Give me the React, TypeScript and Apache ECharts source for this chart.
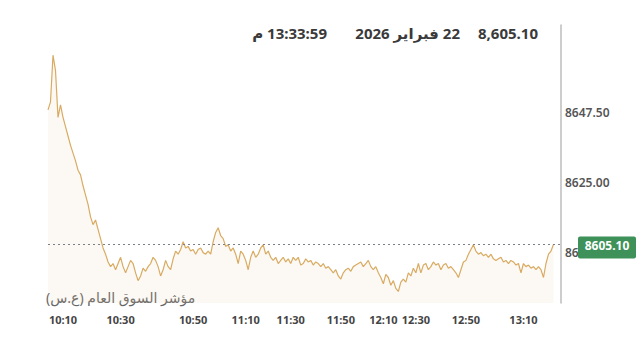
import React, { useEffect, useRef } from "react";
import * as echarts from "echarts";

// Index values (one per trade tick)
const values: number[] = [
  8648.4, 8651, 8666, 8661, 8646, 8650, 8646, 8643, 8640, 8637,
  8634.5, 8632, 8629, 8627.5, 8624, 8621, 8618, 8614, 8611.5, 8613,
  8610, 8607, 8604, 8602, 8599.5, 8598, 8599, 8597, 8599, 8601,
  8598, 8596, 8598, 8600, 8599, 8596, 8593.5, 8595, 8597.5, 8596.5,
  8598, 8599, 8601, 8600, 8598, 8595, 8597, 8600, 8598, 8597,
  8600.5, 8603, 8602, 8603.5, 8606, 8604, 8604.5, 8603, 8603.5, 8602,
  8603.5, 8604, 8602.5, 8602, 8603, 8602, 8606, 8609, 8610.5, 8608,
  8607, 8604.5, 8605, 8603, 8604, 8602, 8599, 8603, 8602, 8600,
  8597, 8601, 8603, 8601, 8602, 8604, 8605, 8602, 8603, 8601,
  8600, 8601, 8599, 8600, 8601, 8599.5, 8600.5, 8599, 8601, 8600,
  8601, 8598.5, 8599, 8600.5, 8599.5, 8600, 8598.5, 8599.5, 8599, 8598,
  8599, 8597.5, 8598, 8597, 8596, 8597, 8595, 8594, 8596, 8597,
  8597.5, 8596.5, 8598, 8598.5, 8599, 8599.5, 8598, 8599, 8600, 8598,
  8597, 8598, 8596, 8594.5, 8592.5, 8595.5, 8594.5, 8592, 8593.5, 8591,
  8590, 8593, 8594, 8593, 8596, 8595, 8597.5, 8596, 8599, 8596,
  8598.5, 8599, 8597, 8598, 8599.5, 8598.5, 8599, 8597, 8598.5, 8599,
  8597.5, 8598, 8597, 8596, 8594.5, 8597, 8599.5, 8600, 8602, 8603.5,
  8605, 8603, 8602, 8602.5, 8601.5, 8602, 8601, 8602, 8600.5, 8600,
  8600.5, 8601, 8599.5, 8600, 8599, 8600, 8599.5, 8598.5, 8599, 8596,
  8599, 8598, 8598.5, 8597.5, 8598, 8597, 8598, 8597, 8594.5, 8599,
  8602, 8603, 8605.1,
];

// Total tick slots in the session view (data stops before the right edge)
const slotCount = 206;
const categories: string[] = Array.from({ length: slotCount }, (_, i) => String(i));

const xTickIndex = [6, 29, 58, 79, 97, 117, 134, 147, 167, 190];
const xTickLabels = ["10:10", "10:30", "10:50", "11:10", "11:30", "11:50", "12:10", "12:30", "12:50", "13:10"];

const yTicks = [8602.5, 8625, 8647.5];
const yMin = 8586.3;
const yMax = 8675.7;

const lastValue = 8605.1;
const titleValue = "8,605.10";
const titleDate = "22 فبراير 2026";
const titleTime = "13:33:59 م";
const indexName = "مؤشر السوق العام (ع.س)";

const RLE = "\u202B";
const PDF = "\u202C";
const FONT = "'Noto Sans', 'Open Sans', 'DejaVu Sans', sans-serif";

export default function App() {
  const ref = useRef<HTMLDivElement>(null);
  useEffect(() => {
    if (!ref.current) return;
    const chart = echarts.init(ref.current, undefined, { renderer: "svg" });
    const titleStyle = {
      align: "right",
      verticalAlign: "middle",
      fill: "#3a3a3a",
      fontSize: 15,
      fontWeight: "bold",
      fontFamily: FONT,
    };
    chart.setOption({
      animation: false,
      grid: { left: 48, right: 79, top: 25, bottom: 45 },
      xAxis: {
        type: "category",
        boundaryGap: false,
        data: categories,
        axisLine: { show: false },
        axisTick: { show: false },
        splitLine: { show: false },
        axisLabel: {
          interval: (index: number) => xTickIndex.includes(index),
          formatter: (_v: string, index: number) => {
            const k = xTickIndex.indexOf(index);
            return k >= 0 ? xTickLabels[k] : "";
          },
          margin: 11,
          color: "#444",
          fontSize: 11,
          fontWeight: "bold",
          fontFamily: FONT,
        },
      },
      yAxis: {
        type: "value",
        position: "right",
        min: yMin,
        max: yMax,
        splitLine: { show: false },
        axisTick: { show: false },
        axisLine: { show: true, lineStyle: { color: "#bdbdbd", width: 1.5 } },
        axisLabel: { show: false },
      },
      series: [
        {
          type: "line",
          data: values,
          symbol: "none",
          lineStyle: { color: "#d9ab62", width: 1.2 },
          areaStyle: { color: "rgba(230, 200, 160, 0.18)" },
          markLine: {
            silent: true,
            symbol: "none",
            lineStyle: { color: "#7a7f88", type: [2, 3], width: 1 },
            data: [{ yAxis: lastValue }],
            label: { show: false },
          },
          z: 3,
        },
      ],
    });
    // y-axis tick labels placed through the axis scale, under the last-price tag
    const yLabelEls = yTicks.map((v) => ({
      type: "text",
      x: 565,
      y: chart.convertToPixel({ yAxisIndex: 0 }, v) as number,
      style: {
        text: v.toFixed(2),
        align: "left",
        verticalAlign: "middle",
        fill: "#555",
        fontSize: 12,
        fontWeight: 600,
        fontFamily: FONT,
      },
    }));
    const tagY = chart.convertToPixel({ yAxisIndex: 0 }, lastValue) as number;
    chart.setOption({
      graphic: {
        z: 100,
        elements: [
          { type: "text", x: 538, y: 33, style: { ...titleStyle, text: titleValue } },
          { type: "text", x: 460, y: 33, style: { ...titleStyle, text: RLE + titleDate + PDF } },
          { type: "text", x: 327, y: 33, style: { ...titleStyle, text: RLE + titleTime + PDF } },
          {
            type: "text",
            x: 44,
            y: 297,
            style: {
              text: RLE + indexName + PDF,
              align: "left",
              verticalAlign: "middle",
              fill: "#666",
              fontSize: 14,
              fontFamily: FONT,
              backgroundColor: "#fff",
              padding: [1, 2, 1, 2],
            },
          },
          ...yLabelEls,
          {
            type: "group",
            children: [
              {
                type: "rect",
                shape: { x: 578, y: tagY - 8, width: 58, height: 22, r: 2 },
                style: { fill: "#3e9159" },
              },
              {
                type: "text",
                x: 607,
                y: tagY + 1,
                style: {
                  text: lastValue.toFixed(2),
                  align: "center",
                  verticalAlign: "middle",
                  fill: "#fff",
                  fontSize: 12,
                  fontWeight: "bold",
                  fontFamily: FONT,
                },
              },
            ],
          },
        ],
      },
    });
    return () => chart.dispose();
  }, []);
  return (
    <div
      ref={ref}
      style={{ position: "fixed", left: 0, top: 0, width: 640, height: 348, background: "#fff" }}
    />
  );
}
